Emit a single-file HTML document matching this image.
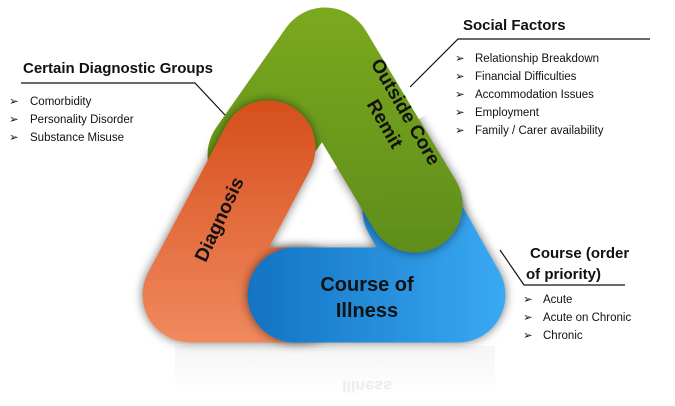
<!DOCTYPE html>
<html><head><meta charset="utf-8"><style>
html,body{margin:0;padding:0;background:#fff;width:675px;height:406px;overflow:hidden}
svg{display:block;font-family:"Liberation Sans",sans-serif}
</style></head><body>
<svg width="675" height="406" viewBox="0 0 675 406" xmlns="http://www.w3.org/2000/svg">
<defs>
<linearGradient id="gG" gradientUnits="userSpaceOnUse" x1="0" y1="10" x2="0" y2="250"><stop offset="0" stop-color="#7aa81e"/><stop offset="1" stop-color="#5f8e1a"/></linearGradient>
<linearGradient id="gO" gradientUnits="userSpaceOnUse" x1="0" y1="100" x2="0" y2="343"><stop offset="0" stop-color="#d64e1c"/><stop offset="1" stop-color="#f08a5e"/></linearGradient>
<linearGradient id="gB" gradientUnits="userSpaceOnUse" x1="250" y1="0" x2="505" y2="0"><stop offset="0" stop-color="#1273c4"/><stop offset="1" stop-color="#3aa9f2"/></linearGradient>
<linearGradient id="gR" x1="0" y1="0" x2="0" y2="1"><stop offset="0" stop-color="#ececec"/><stop offset="1" stop-color="#ffffff"/></linearGradient>
<filter id="sh" filterUnits="userSpaceOnUse" x="0" y="0" width="675" height="406"><feDropShadow dx="0" dy="0" stdDeviation="5" flood-color="#000" flood-opacity="0.55"/></filter>
<clipPath id="cEnd"><polygon points="289,196 461,94 560,260 380,330"/></clipPath>
</defs>
<!-- reflection -->
<rect x="175" y="346" width="320" height="50" fill="url(#gR)" opacity="0.5"/>
<text x="367" y="382" font-size="16" font-weight="bold" fill="#ececec" text-anchor="middle" transform="scale(1,-1) translate(0,-763)">Illness</text>
<!-- green -->
<path d="M255 155 L325 55 L415 205" fill="none" stroke="url(#gG)" stroke-width="95" stroke-linejoin="round" stroke-linecap="round"/>
<!-- orange -->
<path d="M268 148 L190 295 L300 295" fill="none" stroke="url(#gO)" stroke-width="95" stroke-linejoin="round" stroke-linecap="round" filter="url(#sh)"/>
<!-- blue -->
<path d="M295 295 L458 295 L410 210" fill="none" stroke="url(#gB)" stroke-width="95" stroke-linejoin="round" stroke-linecap="round" filter="url(#sh)"/>
<!-- green end on top -->
<g clip-path="url(#cEnd)"><path d="M325 55 L415 205" fill="none" stroke="url(#gG)" stroke-width="95" stroke-linecap="round" filter="url(#sh)"/></g>
<!-- band labels -->
<text font-size="19" font-weight="bold" fill="#111" text-anchor="middle" transform="translate(395,118) rotate(60)"><tspan x="0" y="-6">Outside Core</tspan><tspan x="0" y="18">Remit</tspan></text>
<text font-size="19" font-weight="bold" fill="#111" text-anchor="middle" transform="translate(225,222) rotate(-65)">Diagnosis</text>
<text font-size="20" font-weight="bold" fill="#111" text-anchor="middle" x="367" y="291">Course of</text>
<text font-size="20" font-weight="bold" fill="#111" text-anchor="middle" x="367" y="317">Illness</text>
<!-- connectors -->
<g stroke="#111" stroke-width="1.2" fill="none">
<polyline points="21,83 195,83 225,115"/>
<polyline points="410,87 458,39 650,39"/>
<polyline points="500,250 524,285 625,285"/>
</g>
<!-- left text -->
<text x="23" y="73" font-size="15" font-weight="bold" fill="#111">Certain Diagnostic Groups</text>
<g font-size="11.5" fill="#111">
<text x="9" y="105">➢</text><text x="30" y="105">Comorbidity</text>
<text x="9" y="123">➢</text><text x="30" y="123">Personality Disorder</text>
<text x="9" y="141">➢</text><text x="30" y="141">Substance Misuse</text>
</g>
<!-- right text -->
<text x="463" y="30" font-size="15" font-weight="bold" fill="#111">Social Factors</text>
<g font-size="11.5" fill="#111">
<text x="455" y="62">➢</text><text x="475" y="62">Relationship Breakdown</text>
<text x="455" y="80">➢</text><text x="475" y="80">Financial Difficulties</text>
<text x="455" y="98">➢</text><text x="475" y="98">Accommodation Issues</text>
<text x="455" y="116">➢</text><text x="475" y="116">Employment</text>
<text x="455" y="134">➢</text><text x="475" y="134">Family / Carer availability</text>
</g>
<text x="530" y="258" font-size="15" font-weight="bold" fill="#111">Course (order</text>
<text x="526" y="279" font-size="15" font-weight="bold" fill="#111">of priority)</text>
<g font-size="11.5" fill="#111">
<text x="523" y="303">➢</text><text x="543" y="303">Acute</text>
<text x="523" y="321">➢</text><text x="543" y="321">Acute on Chronic</text>
<text x="523" y="339">➢</text><text x="543" y="339">Chronic</text>
</g>
</svg>
</body></html>
